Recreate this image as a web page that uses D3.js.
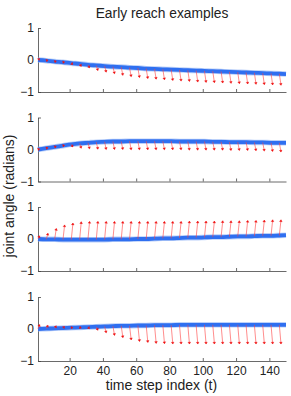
<!DOCTYPE html>
<html>
<head>
<meta charset="utf-8">
<script src="https://cdn.jsdelivr.net/npm/d3@7"></script>
<style>
  body { margin: 0; background: #fff; }
  text { font-family: "Liberation Sans", Arial, sans-serif; fill: #222; }
</style>
</head>
<body>
<div id="chart"></div>
<script>
// time steps where the arrows sit (last entry is the line end only)
var tIdx = [1,6,11,16,21,26,31,36,41,46,51,56,61,66,71,76,81,86,91,96,101,106,111,116,121,126,131,136,141,146,150];

// actual joint angle (blue line), one list per example
var actual1 = [0.0,-0.02,-0.05,-0.07,-0.1,-0.12,-0.15,-0.17,-0.19,-0.21,-0.22,-0.24,-0.25,-0.27,-0.28,-0.29,-0.3,-0.31,-0.32,-0.33,-0.34,-0.35,-0.36,-0.37,-0.38,-0.39,-0.4,-0.41,-0.42,-0.43,-0.44];
var actual2 = [0.0,0.04,0.08,0.12,0.16,0.19,0.21,0.23,0.24,0.25,0.25,0.26,0.26,0.26,0.26,0.26,0.26,0.25,0.25,0.25,0.25,0.24,0.24,0.23,0.23,0.23,0.22,0.22,0.21,0.21,0.21];
var actual3 = [0.0,-0.01,-0.01,-0.02,-0.02,-0.02,-0.02,-0.02,-0.02,-0.01,-0.01,-0.01,0.0,0.0,0.01,0.02,0.02,0.03,0.04,0.04,0.05,0.06,0.06,0.07,0.08,0.08,0.09,0.1,0.1,0.11,0.12];
var actual4 = [0.0,0.01,0.02,0.03,0.04,0.05,0.06,0.07,0.08,0.09,0.1,0.1,0.11,0.11,0.12,0.12,0.12,0.13,0.13,0.13,0.13,0.13,0.13,0.13,0.13,0.13,0.13,0.13,0.13,0.13,0.13];

// arrow tips (red)
var target1 = [0.05,0.0,-0.03,-0.06,-0.14,-0.2,-0.25,-0.33,-0.38,-0.43,-0.48,-0.52,-0.55,-0.58,-0.6,-0.62,-0.64,-0.66,-0.67,-0.69,-0.7,-0.71,-0.72,-0.73,-0.74,-0.75,-0.76,-0.77,-0.78,-0.79];
var target2 = [0.02,0.06,0.1,0.13,0.08,0.04,0.02,0.01,0.0,0.0,0.0,-0.01,-0.01,-0.01,-0.01,-0.01,-0.01,-0.01,-0.02,-0.02,-0.02,-0.02,-0.02,-0.03,-0.03,-0.03,-0.04,-0.05,-0.06,-0.08];
var target3 = [0.1,0.18,0.33,0.44,0.5,0.54,0.55,0.55,0.55,0.55,0.55,0.55,0.55,0.55,0.55,0.55,0.55,0.55,0.56,0.56,0.56,0.56,0.57,0.57,0.57,0.58,0.58,0.59,0.6,0.6];
var target4 = [0.14,0.12,0.1,0.08,0.05,0.03,0.01,-0.04,-0.12,-0.2,-0.27,-0.34,-0.39,-0.42,-0.45,-0.46,-0.47,-0.47,-0.47,-0.47,-0.47,-0.47,-0.47,-0.47,-0.47,-0.47,-0.47,-0.47,-0.47,-0.47];

var xTicks = [20,40,60,80,100,120,140];
var yTicks = [-1,0,1];

var panels = [
	{ actual: actual1, target: target1 },
	{ actual: actual2, target: target2 },
	{ actual: actual3, target: target3 },
	{ actual: actual4, target: target4 }
];

var width = 291, height = 396;
var left = 38, right = 286;
var panelTops = [28, 117.5, 207, 297];
var panelH = 64;

var svg = d3.select("#chart").append("svg")
	.attr("width", width)
	.attr("height", height);

var x = d3.scaleLinear().domain([1, 150]).range([left, right]);

svg.append("text")
	.attr("x", 162).attr("y", 18)
	.attr("text-anchor", "middle")
	.style("font-size", "13.8px")
	.text("Early reach examples");

panels.forEach(function(p, i)
{
	var top = panelTops[i];
	var y = d3.scaleLinear().domain([-1, 1]).range([top + panelH, top]);
	var g = svg.append("g");

	// axes
	var xAxis = d3.axisBottom(x).tickValues(xTicks).tickSizeInner(-3).tickSizeOuter(0)
		.tickFormat(i == 3 ? d3.format("d") : "");
	var gx = g.append("g")
		.attr("transform", "translate(0," + (top + panelH) + ")")
		.call(xAxis);
	gx.selectAll("text").attr("y", 5).attr("dy", "0.71em").style("font-size", "12px").style("font-family", "Liberation Sans, Arial, sans-serif");

	var yAxis = d3.axisLeft(y).tickValues(yTicks).tickSizeInner(-3).tickSizeOuter(0)
		.tickFormat(function(d) { return d < 0 ? "\u22121" : d; });
	var gy = g.append("g")
		.attr("transform", "translate(" + left + ",0)")
		.call(yAxis);
	gy.selectAll("text").attr("x", -4).style("font-size", "12px").style("font-family", "Liberation Sans, Arial, sans-serif");

	g.selectAll(".domain, .tick line").attr("stroke", "#444").attr("stroke-width", 0.8);
	g.selectAll(".tick text").attr("fill", "#222");

	// blue line
	var pts = tIdx.map(function(t, k) { return [t, p.actual[k]]; });
	var line = d3.line()
		.x(function(d) { return x(d[0]); })
		.y(function(d) { return y(d[1]); })
		.curve(d3.curveMonotoneX);

	g.append("path").datum(pts)
		.attr("d", line)
		.attr("fill", "none")
		.attr("stroke", "#8fb3f5")
		.attr("stroke-width", 5.5)
		.attr("stroke-opacity", 0.6);
	g.append("path").datum(pts)
		.attr("d", line)
		.attr("fill", "none")
		.attr("stroke", "#2f6ff0")
		.attr("stroke-width", 3.8);

	// red arrows from the line to the target
	var arrows = p.target.map(function(v, k) {
		return { x0: x(tIdx[k]), y0: y(p.actual[k]), x1: x(tIdx[k] + 1), y1: y(v) };
	});

	var ag = g.append("g");
	ag.selectAll("line.shaft").data(arrows).enter().append("line")
		.attr("class", "shaft")
		.attr("x1", function(d) { return d.x0; })
		.attr("y1", function(d) { return d.y0; })
		.attr("x2", function(d) { return d.x1; })
		.attr("y2", function(d) { return d.y1; })
		.attr("stroke", "#ff4040")
		.attr("stroke-opacity", 0.75)
		.attr("stroke-width", 0.8);

	// small arrow heads
	ag.selectAll("path.head").data(arrows).enter().append("path")
		.attr("class", "head")
		.attr("d", function(d) {
			var dx = d.x1 - d.x0, dy = d.y1 - d.y0;
			var len = Math.sqrt(dx * dx + dy * dy);
			if (len < 0.01) { dx = 1; dy = 0; len = 1; }
			var ux = dx / len, uy = dy / len;
			var hl = 1.8, hw = 1.3;
			var bx = d.x1 - ux * hl, by = d.y1 - uy * hl;
			return "M" + d.x1 + "," + d.y1 +
				"L" + (bx - uy * hw) + "," + (by + ux * hw) +
				"L" + (bx + uy * hw) + "," + (by - ux * hw) + "Z";
		})
		.attr("fill", "#ee1111")
		.attr("stroke", "#ee1111")
		.attr("stroke-width", 0.4);
});

svg.append("text")
	.attr("transform", "translate(14,196) rotate(-90)")
	.attr("text-anchor", "middle")
	.style("font-size", "14px")
	.text("joint angle (radians)");

svg.append("text")
	.attr("x", 161.5).attr("y", 390)
	.attr("text-anchor", "middle")
	.style("font-size", "14px")
	.text("time step index (t)");
</script>
</body>
</html>
